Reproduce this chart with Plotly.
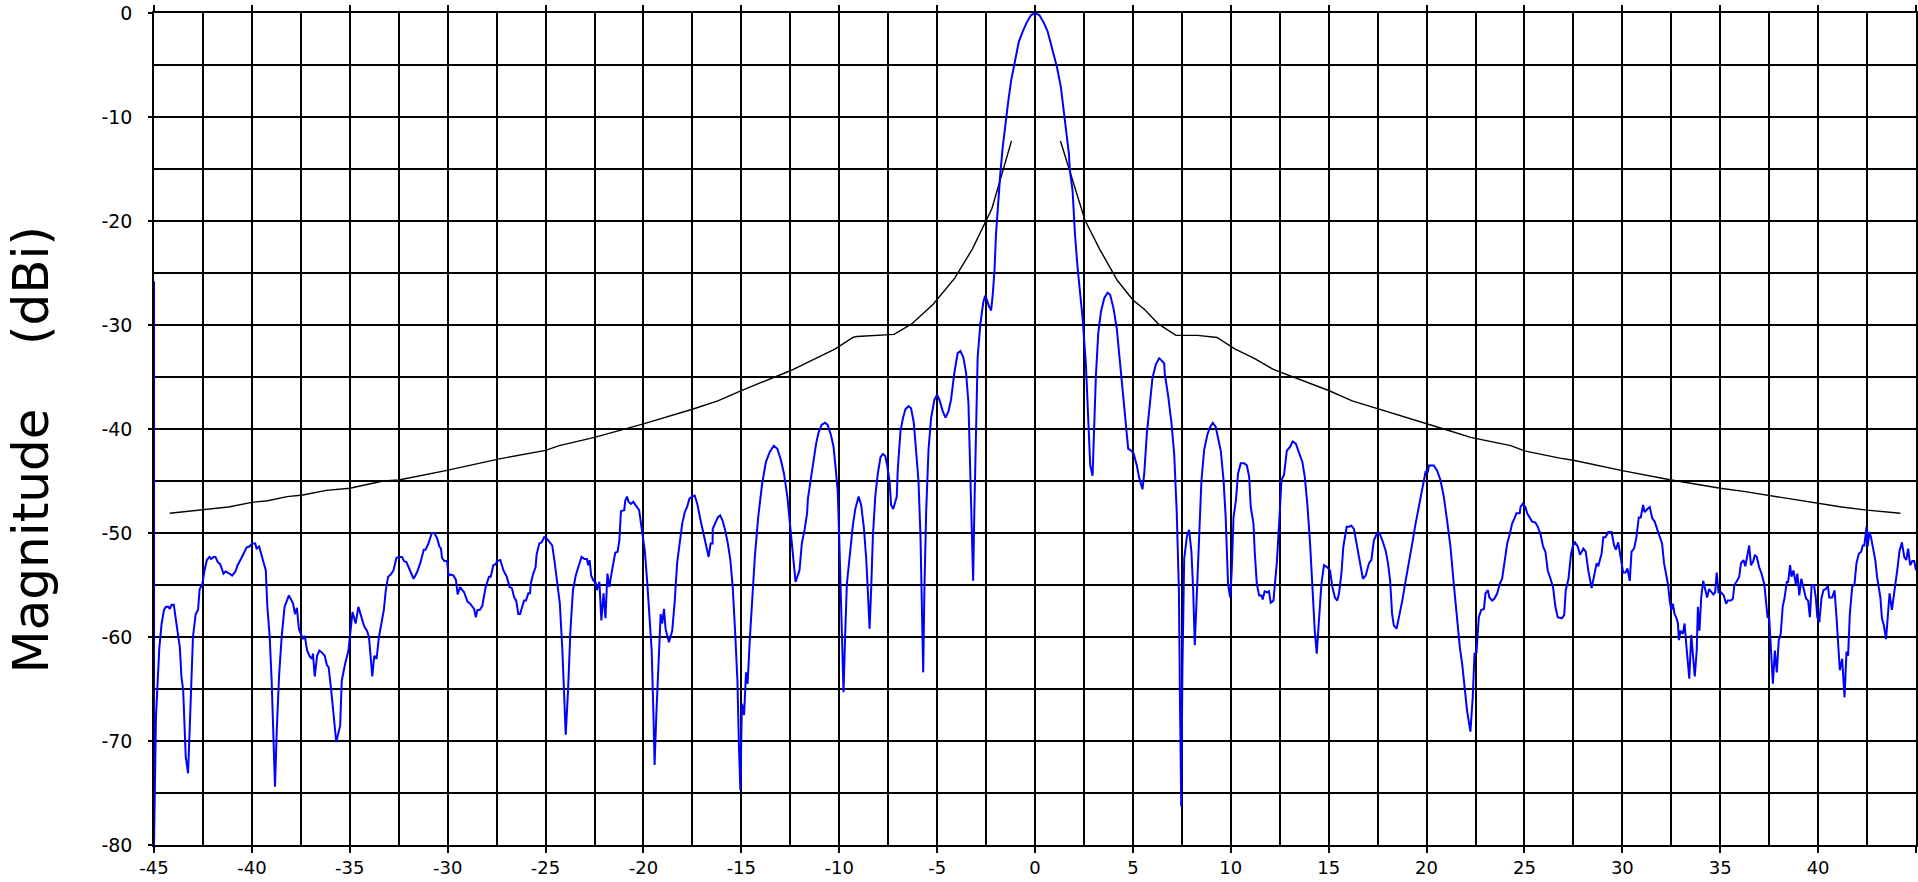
import plotly.graph_objects as go

pattern_m45_to_m27 = [
    (-45.00, -25.8), (-45.00, -80.0), (-44.90, -67.7), (-44.73, -61.1), (-44.61, -58.7),
    (-44.49, -57.4), (-44.39, -57.1), (-44.27, -57.1), (-44.19, -57.3), (-44.10, -56.9),
    (-43.99, -56.9), (-43.89, -58.4), (-43.77, -60.0), (-43.68, -61.0), (-43.60, -63.8),
    (-43.51, -65.1), (-43.38, -71.5), (-43.26, -73.1), (-43.18, -69.0), (-43.09, -64.5),
    (-43.01, -60.0), (-42.87, -57.8), (-42.75, -57.4), (-42.67, -55.4), (-42.53, -54.9),
    (-42.42, -53.6), (-42.30, -52.6), (-42.16, -52.3), (-42.08, -52.5), (-41.96, -52.3),
    (-41.86, -52.3), (-41.74, -52.8), (-41.62, -53.0), (-41.45, -53.9), (-41.35, -53.7),
    (-41.15, -53.9), (-41.01, -54.1), (-40.84, -53.7), (-40.73, -53.1), (-40.56, -52.5),
    (-40.44, -52.1), (-40.27, -51.4), (-40.14, -51.3), (-39.97, -51.0), (-39.83, -51.0),
    (-39.76, -51.5), (-39.63, -51.3), (-39.49, -52.3), (-39.38, -53.1), (-39.29, -53.6),
    (-39.21, -57.1), (-39.09, -60.0), (-38.99, -64.2), (-38.90, -69.0), (-38.82, -74.4),
    (-38.73, -69.0), (-38.61, -63.7), (-38.48, -60.0), (-38.33, -57.1), (-38.11, -56.0),
    (-37.89, -56.8), (-37.80, -57.8), (-37.70, -57.2), (-37.60, -59.2), (-37.50, -59.7),
    (-37.40, -60.2), (-37.30, -59.9), (-37.18, -61.3), (-37.04, -61.9), (-36.93, -62.1),
    (-36.88, -61.6), (-36.79, -63.8), (-36.67, -61.8), (-36.55, -61.3), (-36.42, -61.5),
    (-36.28, -61.8), (-36.17, -62.7), (-36.08, -62.9), (-35.95, -65.1), (-35.83, -67.4),
    (-35.69, -70.1), (-35.49, -68.5), (-35.41, -64.2), (-35.24, -62.6), (-35.07, -61.3),
    (-34.86, -57.6), (-34.70, -58.7), (-34.56, -57.1), (-34.39, -58.2), (-34.26, -59.0),
    (-34.12, -59.4), (-34.02, -60.0), (-33.92, -62.2), (-33.85, -63.8), (-33.75, -61.8),
    (-33.63, -62.1), (-33.51, -60.0), (-33.38, -58.7), (-33.26, -57.4), (-33.16, -55.5),
    (-33.04, -54.2), (-32.91, -54.0), (-32.77, -53.6), (-32.62, -52.4), (-32.50, -52.3),
    (-32.33, -52.3), (-32.23, -52.7), (-32.11, -52.8), (-31.94, -53.5), (-31.74, -54.4),
    (-31.57, -53.8), (-31.40, -52.9), (-31.22, -51.6), (-31.13, -51.6), (-30.98, -51.0),
    (-30.81, -50.0), (-30.68, -50.0), (-30.54, -50.5), (-30.42, -51.3), (-30.34, -51.5),
    (-30.29, -52.4), (-30.17, -52.7), (-30.03, -52.7), (-29.95, -54.1), (-29.83, -54.0),
    (-29.70, -54.1), (-29.58, -54.5), (-29.49, -55.9), (-29.37, -55.2), (-29.16, -55.7),
    (-28.99, -56.6), (-28.85, -56.8), (-28.73, -57.1), (-28.65, -57.3), (-28.56, -58.1),
    (-28.48, -57.4), (-28.36, -57.4), (-28.23, -57.0), (-28.06, -55.2), (-27.89, -54.2),
    (-27.80, -54.2), (-27.67, -53.1), (-27.55, -53.0), (-27.47, -52.7),
]

pattern_m27_to_m10 = [
    (-27.31, -52.6), (-27.15, -53.6), (-26.98, -54.2), (-26.84, -55.2), (-26.72, -55.3),
    (-26.60, -56.2), (-26.50, -56.5), (-26.39, -57.8), (-26.30, -57.8), (-26.20, -57.0),
    (-26.10, -56.5), (-26.00, -56.5), (-25.88, -55.8), (-25.79, -55.8), (-25.76, -54.9),
    (-25.63, -53.9), (-25.51, -53.3), (-25.46, -52.1), (-25.32, -51.0), (-25.20, -50.9),
    (-25.07, -50.4), (-24.95, -50.5), (-24.81, -50.9), (-24.66, -51.2), (-24.53, -52.9),
    (-24.41, -54.9), (-24.27, -56.8), (-24.14, -61.3), (-24.05, -65.1), (-23.97, -69.4),
    (-23.85, -65.1), (-23.73, -59.4), (-23.60, -55.5), (-23.46, -54.1), (-23.33, -53.3),
    (-23.16, -52.3), (-23.01, -52.5), (-22.89, -52.5), (-22.82, -53.1), (-22.75, -52.6),
    (-22.67, -54.1), (-22.55, -54.6), (-22.45, -54.7), (-22.38, -55.5), (-22.25, -54.7),
    (-22.15, -58.4), (-22.04, -55.8), (-21.94, -58.2), (-21.84, -53.9), (-21.74, -55.2),
    (-21.66, -54.2), (-21.54, -52.9), (-21.44, -51.9), (-21.32, -51.8), (-21.23, -50.7),
    (-21.15, -47.9), (-20.98, -47.8), (-20.93, -46.9), (-20.84, -46.5), (-20.76, -47.0),
    (-20.64, -47.2), (-20.52, -47.0), (-20.39, -47.3), (-20.22, -47.8), (-20.08, -49.7),
    (-19.93, -51.7), (-19.80, -54.9), (-19.68, -58.1), (-19.58, -61.3), (-19.49, -67.4),
    (-19.43, -72.3), (-19.34, -67.4), (-19.24, -62.6), (-19.12, -57.8), (-19.04, -58.7),
    (-18.95, -57.3), (-18.87, -59.2), (-18.70, -60.5), (-18.53, -59.4), (-18.40, -56.5),
    (-18.28, -52.9), (-18.16, -51.3), (-18.02, -49.1), (-17.89, -48.0), (-17.77, -47.5),
    (-17.65, -46.7), (-17.52, -46.5), (-17.38, -46.4), (-17.25, -47.2), (-17.08, -48.8),
    (-16.94, -50.1), (-16.81, -51.3), (-16.67, -52.3), (-16.57, -51.0), (-16.47, -51.0),
    (-16.46, -49.6), (-16.33, -49.1), (-16.20, -48.5), (-16.08, -48.3), (-15.96, -48.8),
    (-15.83, -49.7), (-15.69, -51.0), (-15.56, -52.6), (-15.44, -55.2), (-15.32, -59.4),
    (-15.20, -64.2), (-15.12, -70.6), (-15.05, -74.7), (-14.97, -66.4), (-14.86, -67.5),
    (-14.76, -63.4), (-14.68, -64.5), (-14.56, -60.0), (-14.44, -56.2), (-14.31, -52.3),
    (-14.14, -48.5), (-13.94, -45.3), (-13.75, -43.2), (-13.55, -42.2), (-13.34, -41.6),
    (-13.16, -41.9), (-12.99, -42.9), (-12.82, -44.3), (-12.65, -46.5), (-12.50, -49.7),
    (-12.35, -52.6), (-12.23, -54.7), (-12.03, -53.6), (-11.91, -51.0), (-11.77, -49.7),
    (-11.64, -48.1), (-11.60, -46.7), (-11.47, -44.9), (-11.35, -43.3), (-11.18, -41.4),
    (-11.05, -40.3), (-10.90, -39.6), (-10.73, -39.4), (-10.59, -39.6), (-10.42, -40.6),
    (-10.29, -41.7), (-10.17, -44.0), (-10.08, -45.9), (-10.00, -50.4), (-9.92, -55.8),
    (-9.83, -61.0), (-9.78, -65.3), (-9.70, -60.0), (-9.61, -54.9),
]

pattern_m10_to_p9 = [
    (-9.30, -49.2), (-9.18, -47.7), (-9.01, -46.5), (-8.88, -47.3), (-8.74, -49.5),
    (-8.62, -52.5), (-8.54, -55.5), (-8.45, -59.2), (-8.37, -55.5), (-8.28, -50.3),
    (-8.16, -46.5), (-8.03, -44.3), (-7.89, -42.7), (-7.77, -42.4), (-7.65, -42.6),
    (-7.55, -43.5), (-7.43, -45.0), (-7.35, -47.3), (-7.24, -47.7), (-7.06, -46.5),
    (-7.01, -43.9), (-6.87, -40.2), (-6.75, -39.0), (-6.62, -38.1), (-6.46, -37.8),
    (-6.33, -38.0), (-6.19, -39.4), (-6.07, -42.0), (-5.95, -45.0), (-5.85, -50.3),
    (-5.78, -55.5), (-5.71, -63.4), (-5.65, -55.5), (-5.56, -48.0), (-5.44, -42.0),
    (-5.31, -39.0), (-5.14, -37.2), (-5.00, -36.7), (-4.88, -37.2), (-4.71, -38.3),
    (-4.57, -38.9), (-4.42, -38.3), (-4.29, -37.2), (-4.12, -34.6), (-3.95, -32.7),
    (-3.81, -32.5), (-3.66, -33.1), (-3.52, -34.6), (-3.40, -37.5), (-3.30, -44.3),
    (-3.23, -49.9), (-3.16, -54.6), (-3.10, -48.0), (-3.01, -38.7), (-2.93, -33.1),
    (-2.79, -29.9), (-2.72, -28.9), (-2.64, -27.8), (-2.55, -27.2), (-2.45, -27.6),
    (-2.35, -28.2), (-2.24, -28.6), (-2.16, -27.1), (-2.07, -24.8),
    (-1.99, -21.2), (-1.90, -18.7), (-1.77, -15.4), (-1.65, -12.9), (-1.48, -10.0),
    (-1.36, -8.4), (-1.22, -6.5), (-1.05, -4.9), (-0.83, -2.8), (-0.63, -1.8),
    (-0.42, -0.9), (-0.20, -0.2), (0.00, 0.0), (0.22, -0.2), (0.44, -0.9),
    (0.65, -1.8), (0.90, -3.6), (1.12, -5.2), (1.32, -7.1), (1.49, -9.7),
    (1.63, -12.2), (1.73, -13.5), (1.78, -15.1), (1.92, -17.1), (2.04, -21.2),
    (2.17, -24.4), (2.34, -27.6),
    (2.43, -29.3), (2.60, -33.8), (2.72, -38.7), (2.82, -43.5), (2.94, -44.5),
    (3.03, -38.7), (3.11, -34.9), (3.23, -30.8), (3.37, -28.7), (3.54, -27.4),
    (3.71, -26.9), (3.84, -27.1), (4.01, -28.4), (4.18, -30.4), (4.35, -33.8),
    (4.52, -37.5), (4.64, -40.2), (4.76, -41.9), (4.86, -42.0), (5.03, -42.3),
    (5.20, -43.5), (5.32, -44.7), (5.49, -45.8), (5.58, -44.3), (5.71, -40.5),
    (5.85, -37.5), (6.00, -35.1), (6.17, -33.8), (6.34, -33.2), (6.46, -33.4),
    (6.60, -33.7), (6.63, -34.7), (6.80, -36.8), (6.97, -39.4), (7.11, -42.4),
    (7.24, -48.0), (7.35, -55.5), (7.41, -66.8), (7.47, -76.3), (7.53, -63.0),
    (7.62, -52.5), (7.76, -50.3), (7.87, -49.7), (7.99, -51.8), (8.08, -55.5),
    (8.16, -60.8), (8.27, -55.5), (8.38, -49.9), (8.50, -45.0), (8.64, -42.0),
    (8.81, -40.5),
]

pattern_p9_to_p27 = [
    (8.95, -39.8), (9.08, -39.4), (9.23, -39.8), (9.35, -40.8), (9.49, -42.1),
    (9.63, -44.9), (9.74, -48.5), (9.86, -54.9), (9.97, -56.2), (10.05, -53.6),
    (10.14, -48.5), (10.26, -46.9), (10.37, -44.3), (10.51, -43.3), (10.68, -43.3),
    (10.82, -43.5), (10.94, -44.6), (11.02, -47.5), (11.16, -49.1), (11.22, -51.7),
    (11.33, -54.9), (11.45, -56.0), (11.57, -56.0), (11.63, -56.4), (11.73, -55.6),
    (11.87, -55.7), (11.95, -55.6), (12.04, -56.7), (12.18, -56.5), (12.24, -55.2),
    (12.35, -52.9), (12.47, -49.1), (12.59, -44.9), (12.72, -44.4), (12.86, -42.1),
    (13.03, -41.7), (13.16, -41.2), (13.32, -41.4), (13.50, -42.4), (13.66, -43.2),
    (13.78, -44.6), (13.91, -47.2), (14.05, -51.0), (14.17, -55.5), (14.29, -59.4),
    (14.39, -61.6), (14.51, -57.8), (14.63, -54.9), (14.76, -53.1), (14.93, -53.3),
    (15.07, -53.6), (15.19, -55.2), (15.32, -56.2), (15.44, -56.5), (15.53, -55.8),
    (15.65, -53.9), (15.75, -51.3), (15.92, -49.4), (16.04, -49.4), (16.16, -49.3),
    (16.29, -49.6), (16.43, -51.0), (16.60, -52.9), (16.75, -54.4), (16.89, -54.1),
    (17.06, -52.9), (17.18, -52.6), (17.31, -50.7), (17.45, -50.1), (17.59, -50.0),
    (17.74, -50.7), (17.91, -51.7), (18.03, -52.9), (18.14, -54.6), (18.24, -57.8),
    (18.33, -58.9), (18.47, -59.2), (18.59, -58.1), (18.76, -56.5), (18.93, -54.6),
    (19.10, -52.9), (19.27, -51.0), (19.44, -49.1), (19.61, -47.5), (19.78, -45.9),
    (19.90, -44.9), (19.95, -44.1), (20.07, -44.1), (20.12, -43.5), (20.37, -43.5),
    (20.54, -44.0), (20.71, -44.9), (20.88, -46.5), (21.05, -48.8), (21.22, -51.3),
    (21.39, -54.9), (21.56, -58.4), (21.70, -61.0), (21.82, -62.6), (21.94, -64.5),
    (22.07, -67.1), (22.24, -69.1), (22.36, -65.8), (22.45, -61.6), (22.55, -61.5),
    (22.67, -58.1), (22.79, -57.4), (22.93, -57.3), (23.01, -55.8), (23.13, -55.5),
    (23.21, -56.2), (23.35, -56.5), (23.47, -56.3), (23.61, -55.8), (23.74, -54.9),
    (23.86, -54.4), (23.98, -52.6), (24.12, -51.0), (24.25, -50.1), (24.37, -49.1),
    (24.49, -48.6), (24.59, -48.1), (24.76, -48.1), (24.80, -47.5), (24.90, -47.2),
    (25.05, -47.5), (25.14, -48.1), (25.27, -48.5), (25.39, -48.9), (25.56, -49.0),
    (25.68, -49.4), (25.82, -50.1), (25.95, -51.3), (26.07, -51.8), (26.19, -53.6),
    (26.33, -54.4), (26.46, -55.2), (26.58, -57.1), (26.70, -58.1),
]

pattern_p27_to_p45 = [
    (26.91, -58.2), (27.03, -57.9), (27.11, -55.5), (27.25, -54.4), (27.38, -52.0),
    (27.48, -51.2), (27.58, -50.9), (27.72, -51.3), (27.84, -52.1), (28.01, -51.5),
    (28.13, -51.8), (28.26, -53.6), (28.43, -55.3), (28.57, -54.1), (28.69, -52.9),
    (28.77, -53.2), (28.94, -52.0), (29.03, -50.4), (29.14, -50.4), (29.28, -49.9),
    (29.45, -49.9), (29.58, -51.2), (29.67, -51.6), (29.79, -50.9), (29.92, -52.3),
    (30.04, -53.8), (30.16, -53.8), (30.26, -53.4), (30.38, -54.6), (30.47, -51.8),
    (30.60, -51.5), (30.72, -50.4), (30.84, -48.5), (30.94, -48.5), (31.06, -47.3),
    (31.14, -48.0), (31.28, -47.7), (31.40, -47.5), (31.53, -48.6), (31.65, -48.9),
    (31.79, -49.7), (31.91, -50.4), (32.03, -51.0), (32.13, -52.9), (32.25, -54.2),
    (32.33, -54.9), (32.42, -56.5), (32.50, -57.4), (32.58, -56.8), (32.67, -57.8),
    (32.75, -58.1), (32.84, -58.7), (32.89, -60.3), (32.97, -59.4), (33.09, -59.7),
    (33.18, -58.7), (33.26, -60.6), (33.35, -62.6), (33.42, -64.0), (33.52, -59.8),
    (33.60, -61.9), (33.70, -63.8), (33.80, -61.3), (33.86, -57.1), (33.94, -59.4),
    (34.03, -56.2), (34.13, -54.6), (34.23, -55.5), (34.33, -56.2), (34.43, -55.4),
    (34.53, -55.6), (34.65, -55.9), (34.74, -55.7), (34.82, -53.8), (34.91, -55.7),
    (35.04, -55.7), (35.18, -56.0), (35.30, -56.8), (35.38, -56.5), (35.55, -56.5),
    (35.65, -56.3), (35.72, -55.0), (35.86, -54.6), (35.97, -54.2), (36.06, -52.9),
    (36.19, -52.6), (36.28, -53.2), (36.40, -52.0), (36.48, -51.2), (36.57, -53.1),
    (36.69, -52.7), (36.77, -52.1), (36.87, -52.3), (36.99, -53.3), (37.11, -53.9),
    (37.25, -54.9), (37.33, -56.5), (37.42, -58.1), (37.50, -58.1), (37.58, -61.0),
    (37.69, -64.5), (37.79, -61.3), (37.89, -63.4), (37.99, -60.3), (38.09, -59.7),
    (38.19, -57.1), (38.29, -56.2), (38.40, -54.7), (38.47, -54.7), (38.57, -53.1),
    (38.64, -54.2), (38.74, -53.6), (38.86, -54.9), (38.94, -53.9), (39.04, -56.0),
    (39.14, -54.4), (39.28, -55.4), (39.38, -56.3), (39.49, -56.5), (39.58, -58.1),
    (39.67, -55.0), (39.79, -55.0), (39.88, -56.2), (39.96, -58.1), (40.06, -58.6),
    (40.17, -56.3), (40.27, -55.5), (40.38, -55.4), (40.50, -55.1), (40.57, -56.2),
    (40.72, -56.2), (40.84, -55.5), (40.94, -58.1), (41.03, -61.3), (41.11, -63.2),
    (41.23, -62.1), (41.35, -65.8), (41.45, -61.4), (41.53, -61.8), (41.62, -57.8),
    (41.74, -55.2), (41.86, -54.9), (41.96, -52.9), (42.08, -52.0), (42.20, -51.8),
    (42.28, -51.2), (42.36, -51.2), (42.43, -50.1), (42.47, -49.4), (42.53, -51.3),
    (42.62, -49.9), (42.70, -50.4), (42.80, -51.3), (42.92, -52.6), (43.01, -54.2),
    (43.09, -55.2), (43.18, -56.2), (43.26, -58.2), (43.36, -58.9), (43.47, -60.2),
    (43.57, -57.8), (43.65, -55.8), (43.77, -57.4), (43.86, -56.2), (43.96, -54.9),
    (44.06, -53.3), (44.16, -51.7), (44.28, -50.9), (44.40, -52.3), (44.50, -52.6),
    (44.60, -51.5), (44.70, -53.1), (44.81, -52.7), (44.91, -52.7), (45.00, -53.6),
]

# ---- Sidelobe envelope mask (angle deg, dBi); left and right branches ----
mask_left = [
    (-44.2, -48.1), (-42.5, -47.8), (-41.2, -47.5), (-40.0, -47.05), (-39.2, -46.9),
    (-38.2, -46.5), (-37.4, -46.35), (-36.2, -45.9), (-35.0, -45.7), (-33.3, -45.0),
    (-32.5, -44.9), (-30.1, -44.0), (-27.6, -43.0), (-27.3, -42.85), (-25.0, -42.05),
    (-24.3, -41.6), (-22.5, -40.8), (-20.9, -40.0), (-20.0, -39.5), (-17.5, -38.1),
    (-16.2, -37.3), (-15.0, -36.3), (-12.5, -34.4), (-10.2, -32.3), (-9.3, -31.2),
    (-9.1, -31.1), (-7.2, -30.9), (-6.3, -29.9), (-5.2, -28.0), (-4.1, -25.5),
    (-3.2, -22.7), (-2.2, -18.8), (-1.8, -16.1), (-1.2, -12.3),
]
mask_right = [
    (1.3, -12.3), (1.75, -15.1), (2.55, -19.9), (3.3, -22.7), (4.2, -25.7),
    (5.0, -27.6), (5.6, -28.5), (6.3, -29.9), (7.2, -31.0), (8.3, -31.0),
    (9.3, -31.2), (10.2, -32.3), (11.2, -33.2), (12.2, -34.3), (13.6, -35.3),
    (15.0, -36.3), (16.2, -37.3), (17.55, -38.1), (20.0, -39.5), (21.05, -40.1),
    (22.25, -40.8), (24.3, -41.6), (25.0, -42.1), (25.5, -42.3), (26.8, -42.8),
    (27.5, -43.0), (30.0, -44.0), (32.5, -44.9), (33.7, -45.3), (35.0, -45.7),
    (36.2, -46.0), (37.5, -46.4), (38.3, -46.6), (39.3, -46.9), (40.0, -47.1),
    (41.2, -47.5), (42.5, -47.8), (44.2, -48.1),
]

# ---- Axis ticks ----
x_tick_vals = [-45, -40, -35, -30, -25, -20, -15, -10, -5, 0, 5, 10, 15, 20, 25, 30, 35, 40, 45]
x_tick_text = ["-45", "-40", "-35", "-30", "-25", "-20", "-15", "-10", "-5", "0",
               "5", "10", "15", "20", "25", "30", "35", "40", "45"]
y_tick_vals = [0, -10, -20, -30, -40, -50, -60, -70, -80]
y_tick_text = ["0", "-10", "-20", "-30", "-40", "-50", "-60", "-70", "-80"]
y_title = "Magnitude    (dBi)"

pattern = (pattern_m45_to_m27 + pattern_m27_to_m10 + pattern_m10_to_p9
           + pattern_p9_to_p27 + pattern_p27_to_p45)
pat_x = [p[0] for p in pattern]
pat_y = [p[1] for p in pattern]

mask_x = [p[0] for p in mask_left] + [None] + [p[0] for p in mask_right]
mask_y = [p[1] for p in mask_left] + [None] + [p[1] for p in mask_right]

FONT = "DejaVu Sans"

fig = go.Figure()
fig.add_trace(go.Scatter(x=mask_x, y=mask_y, mode="lines", connectgaps=False,
                         line=dict(color="#000000", width=1.4), showlegend=False,
                         hoverinfo="skip"))
fig.add_trace(go.Scatter(x=pat_x, y=pat_y, mode="lines",
                         line=dict(color="#0000FF", width=2), showlegend=False))

grid_common = dict(showgrid=True, gridcolor="#000000", gridwidth=1.5, automargin=False,
                   zeroline=False, showline=True, linecolor="#000000", linewidth=1.5,
                   mirror="ticks", ticks="outside", tickcolor="#000000", tickwidth=1.5)

fig.update_xaxes(range=[-45, 45], tickmode="array", tickvals=x_tick_vals,
                 ticktext=x_tick_text, ticklen=6, ticklabelstandoff=0,
                 tickfont=dict(family=FONT, size=18, color="#000000"),
                 minor=dict(tickmode="linear", tick0=0, dtick=2.5, showgrid=True,
                            gridcolor="#000000", gridwidth=1.5, ticks=""),
                 **grid_common)
fig.update_yaxes(range=[-80, 0], tickmode="array", tickvals=y_tick_vals,
                 ticktext=y_tick_text, ticklen=4, ticklabelstandoff=12,
                 tickfont=dict(family=FONT, size=19, color="#000000"),
                 minor=dict(tickmode="linear", tick0=0, dtick=5, showgrid=True,
                            gridcolor="#000000", gridwidth=1.5, ticks=""),
                 **grid_common)

fig.add_annotation(text=y_title, xref="paper", yref="paper",
                   x=-0.0701, y=0.4748, xanchor="center", yanchor="middle",
                   textangle=-90, showarrow=False, borderpad=0,
                   font=dict(family=FONT, size=50, color="#000000"))

fig.update_layout(width=1918, height=882, plot_bgcolor="white", paper_bgcolor="white",
                  margin=dict(l=154, r=2, t=13, b=37, pad=0, autoexpand=False),
                  showlegend=False)

# Remove the default page margin so the 1918x882 figure fills the window exactly.
fig.write_html("out.html", config={"displayModeBar": False},
               post_script="document.body.style.margin='0';document.body.style.overflow='hidden';")
